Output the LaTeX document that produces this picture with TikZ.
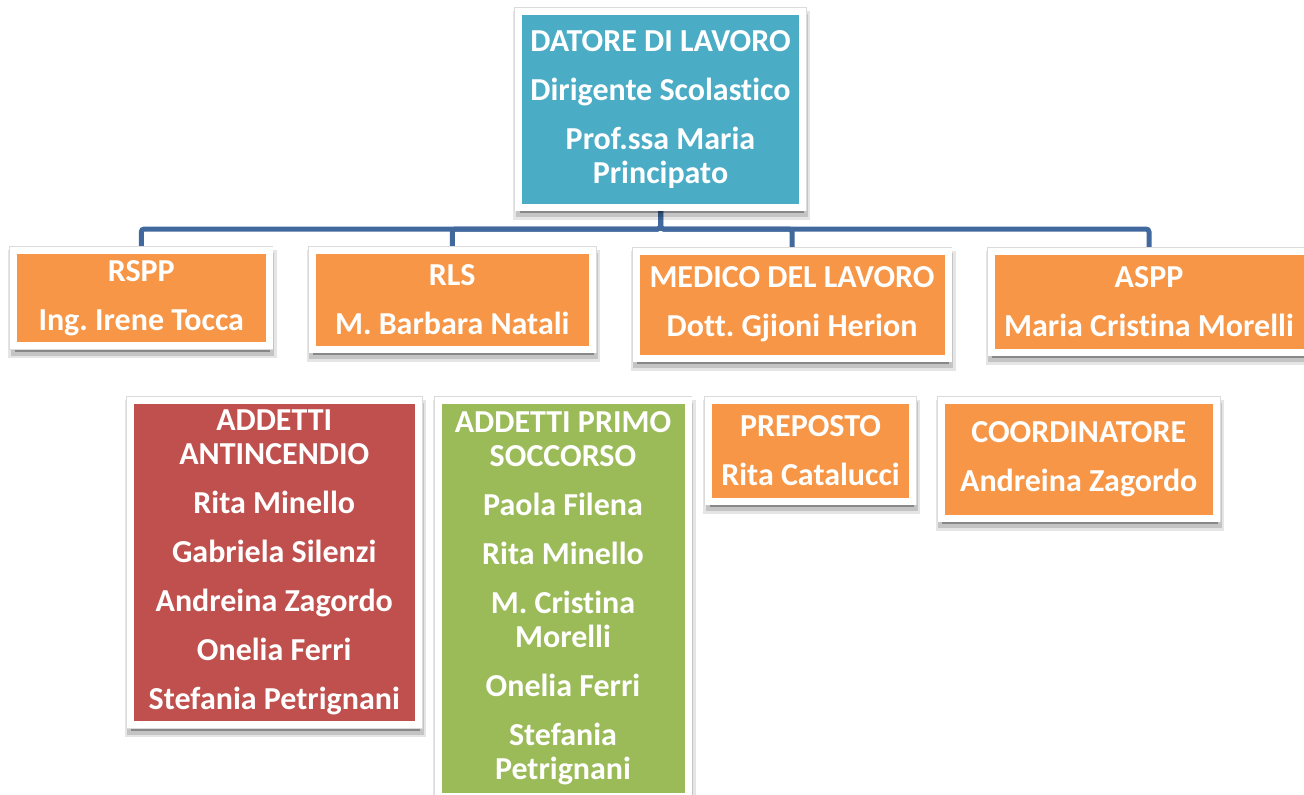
\documentclass[tikz,border=0pt]{standalone}
\usepackage{fontspec}
\setmainfont{Carlito}[Ligatures={NoCommon,NoRare,NoContextual}]
\frenchspacing
\usetikzlibrary{backgrounds}
\definecolor{capocol}{HTML}{4BACC6}
\definecolor{arancio}{HTML}{F79646}
\definecolor{rosso}{HTML}{C0504D}
\definecolor{verde}{HTML}{9BBB59}
\definecolor{lineacol}{HTML}{41699E}
\begin{document}
\begin{tikzpicture}[x=1pt,y=-1pt,
  ombra/.style={
    preaction={fill=black, fill opacity=0.3, draw=black, draw opacity=0.10, line width=13pt, transform canvas={xshift=1pt, yshift=-6pt}},
    preaction={draw=black, draw opacity=0.14, line width=8pt, transform canvas={xshift=1pt, yshift=-6pt}}},
  casella/.style={ombra, draw=white, line width=7pt,
    preaction={draw=black!14, line width=8.5pt},
    text=white, font=\bfseries\fontsize{32}{34}\selectfont, align=center, inner sep=0pt},
  linea/.style={draw=lineacol, line width=5pt, rounded corners=3pt}]
\begin{scope}[on background layer]
\fill[white] (0,0) rectangle (1304,795);
\end{scope}
\useasboundingbox (0,0) rectangle (1304,795);
\clip (0,0) rectangle (1304,795);
\node[casella, fill=capocol, minimum width=284pt, minimum height=195.5pt] (datore) at (660.5,109.25) {DATORE DI LAVORO\\[15pt]Dirigente Scolastico\\[15pt]Prof.ssa Maria\\Principato};
\node[casella, fill=arancio, minimum width=255.5pt, minimum height=95pt] (rspp) at (141.25,298) {RSPP\\[15pt]Ing. Irene Tocca};
\node[casella, fill=arancio, minimum width=280.5pt, minimum height=98.5pt] (rls) at (452.25,299.75) {RLS\\[15pt]M. Barbara Natali};
\node[casella, fill=arancio, minimum width=312pt, minimum height=107pt] (medico) at (792,304.5) {MEDICO DEL LAVORO\\[15pt]Dott. Gjioni Herion};
\node[casella, fill=arancio, minimum width=316pt, minimum height=101pt] (aspp) at (1149,301.5) {ASPP\\[15pt]Maria Cristina Morelli};
\node[casella, fill=rosso, minimum width=288.5pt, minimum height=324pt] (antincendio) at (274.25,562.5) {ADDETTI\\ANTINCENDIO\\[15pt]Rita Minello\\[15pt]Gabriela Silenzi\\[15pt]Andreina Zagordo\\[15pt]Onelia Ferri\\[15pt]Stefania Petrignani};
\node[casella, fill=verde, minimum width=250pt, minimum height=395.5pt] (soccorso) at (563,598.25) {ADDETTI PRIMO\\SOCCORSO\\[15pt]Paola Filena\\[15pt]Rita Minello\\[15pt]M. Cristina\\Morelli\\[15pt]Onelia Ferri\\[15pt]Stefania\\Petrignani};
\node[casella, fill=arancio, minimum width=204pt, minimum height=101pt] (preposto) at (810.5,450.5) {PREPOSTO\\[15pt]Rita Catalucci};
\node[casella, fill=arancio, minimum width=275.5pt, minimum height=117.5pt] (coordinatore) at (1078.75,459.25) {COORDINATORE\\[15pt]Andreina Zagordo};
\begin{scope}[on background layer]
\coordinate (bus) at (660.5,229);
\draw[linea] (datore.south) -- (bus) -| (rspp.north);
\draw[linea] (datore.south) -- (bus) -| (rls.north);
\draw[linea] (datore.south) -- (bus) -| (medico.north);
\draw[linea] (datore.south) -- (bus) -| (aspp.north);
\end{scope}
\end{tikzpicture}
\end{document}
